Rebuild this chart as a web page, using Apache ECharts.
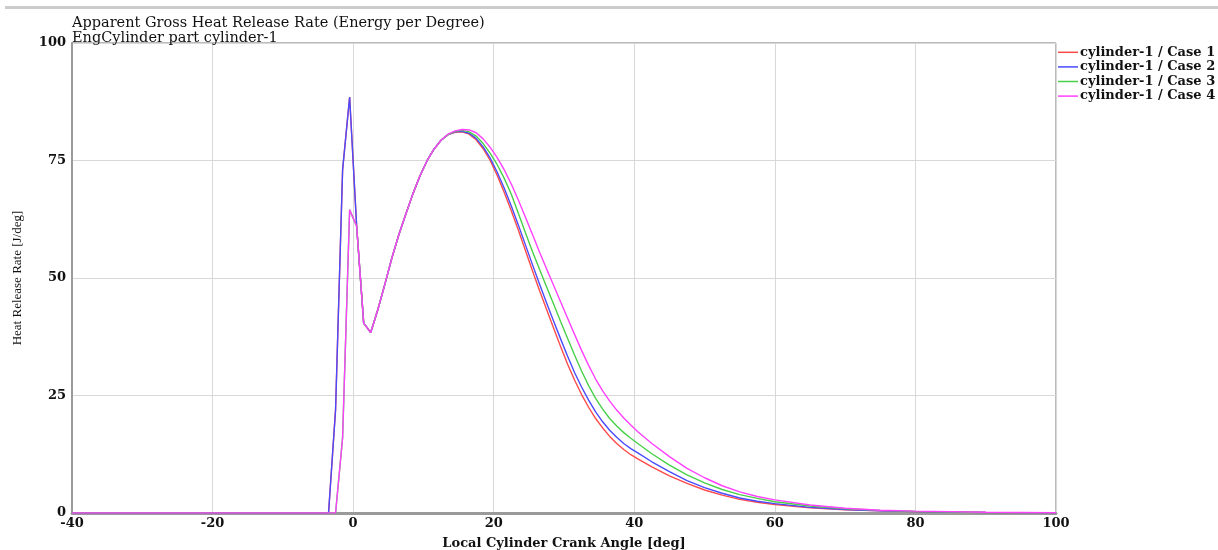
<!DOCTYPE html>
<html>
<head>
<meta charset="utf-8">
<script src="https://cdn.jsdelivr.net/npm/echarts@6/dist/echarts.min.js"></script>
<style>
html,body{margin:0;padding:0;background:#fff;}
#chart{width:1218px;height:550px;}
</style>
</head>
<body>
<div id="chart"></div>
<script>
var titleLines = ["Apparent Gross Heat Release Rate (Energy per Degree)", "EngCylinder part cylinder-1"];
var xAxisName = "Local Cylinder Crank Angle [deg]";
var yAxisName = "Heat Release Rate [J/deg]";
var seriesNames = ["cylinder-1 / Case 1", "cylinder-1 / Case 2", "cylinder-1 / Case 3", "cylinder-1 / Case 4"];
var seriesColors = ["#ff4a4a", "#4a4aff", "#48d048", "#ff40ff"];

var crankAngle = [-40, -3.5, -2.5, -1.5, -0.5, 0.5, 1.5,
  2.5, 3.5, 4.5, 5.5, 6.5, 7.5, 8.5, 9.5, 10.5, 11.5, 12.5, 13.5, 14.5,
  15.5, 16.5, 17.5, 18.5, 19.5, 20.5, 21.5, 22.5, 23.5, 24.5, 25.5, 26.5, 27.5, 28.5, 29.5, 30.5,
  31.5, 32.5, 33.5, 34.5, 35.5, 36.5, 37.5, 38.5, 39.5, 40.5,
  42.5, 45, 47.5, 50, 52.5, 55, 57.5, 60, 65, 70, 75, 80, 90, 100];

var case1 = [0, 0, 22, 73, 88.5, 61, 40.4,
  38.4, 43.2, 48.6, 54.2, 59.2, 63.6, 67.9, 71.7, 74.9, 77.4, 79.3, 80.5, 81.0,
  81.1, 80.6, 79.4, 77.5, 75.0, 71.8, 68.2, 64.3, 60.2, 55.9, 51.6, 47.4, 43.4, 39.4, 35.5, 31.7,
  28.3, 25.2, 22.5, 20.1, 18.1, 16.3, 14.8, 13.5, 12.4, 11.5,
  9.8, 7.9, 6.3, 4.9, 3.8, 2.9, 2.3, 1.8, 1.1, 0.7, 0.45, 0.3, 0.1, 0.05];

var case2 = [0, 0, 22, 73, 88.5, 61, 40.4,
  38.4, 43.2, 48.6, 54.2, 59.2, 63.6, 67.9, 71.7, 74.9, 77.4, 79.3, 80.5, 81.1,
  81.2, 80.8, 79.7, 77.9, 75.5, 72.5, 69.1, 65.3, 61.3, 57.1, 52.9, 48.8, 44.8, 40.9, 37.1, 33.4,
  29.9, 26.8, 24.0, 21.5, 19.4, 17.6, 16.1, 14.8, 13.7, 12.8,
  10.9, 8.8, 6.9, 5.4, 4.2, 3.2, 2.5, 2.0, 1.2, 0.75, 0.45, 0.3, 0.1, 0.05];

var case3 = [0, 0, 0, 16, 64.5, 61, 40.4,
  38.4, 43.2, 48.6, 54.2, 59.2, 63.6, 67.9, 71.7, 74.9, 77.4, 79.3, 80.5, 81.2,
  81.4, 81.1, 80.2, 78.6, 76.5, 74.1, 71.2, 67.8, 63.8, 59.7, 55.7, 51.9, 48.2, 44.5, 40.8, 37.2,
  33.6, 30.2, 27.1, 24.4, 22.1, 20.1, 18.5, 17.1, 15.9, 14.8,
  12.6, 10.2, 8.1, 6.4, 5.0, 3.9, 3.1, 2.4, 1.5, 0.9, 0.55, 0.35, 0.12, 0.05];

var case4 = [0, 0, 0, 16, 64.5, 61, 40.4,
  38.4, 43.2, 48.6, 54.2, 59.2, 63.6, 67.9, 71.7, 74.9, 77.4, 79.3, 80.6, 81.3,
  81.6, 81.5, 80.9, 79.6, 77.8, 75.6, 73.0, 70.0, 66.6, 63.0, 59.3, 55.6, 52.0, 48.5, 45.0, 41.5,
  38.0, 34.6, 31.4, 28.5, 26.0, 23.8, 21.9, 20.2, 18.7, 17.3,
  14.8, 12.0, 9.5, 7.5, 5.8, 4.5, 3.5, 2.8, 1.7, 1.0, 0.6, 0.4, 0.15, 0.05];

var allCases = [case1, case2, case3, case4];

var serif = "'Liberation Serif', 'DejaVu Serif', serif";
var wideSerif = "'DejaVu Serif', 'Liberation Serif', serif";

function zip(xs, ys) {
  return xs.map(function (x, i) { return [x, ys[i]]; });
}

var chart = echarts.init(document.getElementById('chart'), null, {renderer: 'canvas'});

var series = allCases.map(function (vals, i) {
  return {
    name: seriesNames[i],
    type: 'line',
    data: zip(crankAngle, vals),
    showSymbol: false,
    symbol: 'none',
    smooth: false,
    animation: false,
    z: 5,
    lineStyle: {color: seriesColors[i], width: 1.4},
    itemStyle: {color: seriesColors[i]}
  };
});

chart.setOption({
  animation: false,
  backgroundColor: '#fff',
  title: {
    text: titleLines.join('\n'),
    left: 72,
    top: 16,
    padding: 0,
    textStyle: {fontFamily: wideSerif, fontSize: 14.5, fontWeight: 'normal', color: '#111', lineHeight: 15}
  },
  graphic: [{
    type: 'rect',
    shape: {x: 5, y: 6, width: 1213, height: 3},
    style: {fill: '#cccccc'}
  }],
  legend: {
    orient: 'vertical',
    left: 1058,
    top: 45,
    icon: 'rect',
    itemWidth: 20,
    itemHeight: 1.5,
    itemGap: 0,
    padding: 0,
    textStyle: {fontFamily: wideSerif, fontSize: 13, fontWeight: 'bold', color: '#111', lineHeight: 14.6, padding: [0, 0, 0, -3]},
    data: seriesNames
  },
  grid: {
    left: 72, right: 162, top: 43, bottom: 37,
    outerBoundsMode: 'none',
    containLabel: false,
    show: true, borderColor: '#777', borderWidth: 1, backgroundColor: 'transparent'
  },
  xAxis: {
    type: 'value',
    min: -40, max: 100, interval: 20,
    name: xAxisName,
    nameLocation: 'middle',
    nameGap: 24,
    nameTextStyle: {fontFamily: wideSerif, fontSize: 13, fontWeight: 'bold', color: '#111'},
    axisLine: {show: true, lineStyle: {color: '#9a9a9a', width: 3}},
    axisTick: {show: false},
    axisLabel: {fontFamily: wideSerif, fontSize: 13, fontWeight: 'bold', color: '#111', margin: 4},
    splitLine: {show: true, lineStyle: {color: '#d8d8d8', width: 1}}
  },
  yAxis: {
    type: 'value',
    min: 0, max: 100, interval: 25,
    name: yAxisName,
    nameLocation: 'middle',
    nameGap: 48,
    nameTextStyle: {fontFamily: serif, fontSize: 13, fontWeight: 'normal', color: '#111'},
    axisLine: {show: true, onZero: false, lineStyle: {color: '#9a9a9a', width: 2}},
    axisTick: {show: false},
    axisLabel: {fontFamily: wideSerif, fontSize: 13, fontWeight: 'bold', color: '#111', margin: 6},
    splitLine: {show: true, lineStyle: {color: '#d8d8d8', width: 1}}
  },
  series: series
});
</script>
</body>
</html>
